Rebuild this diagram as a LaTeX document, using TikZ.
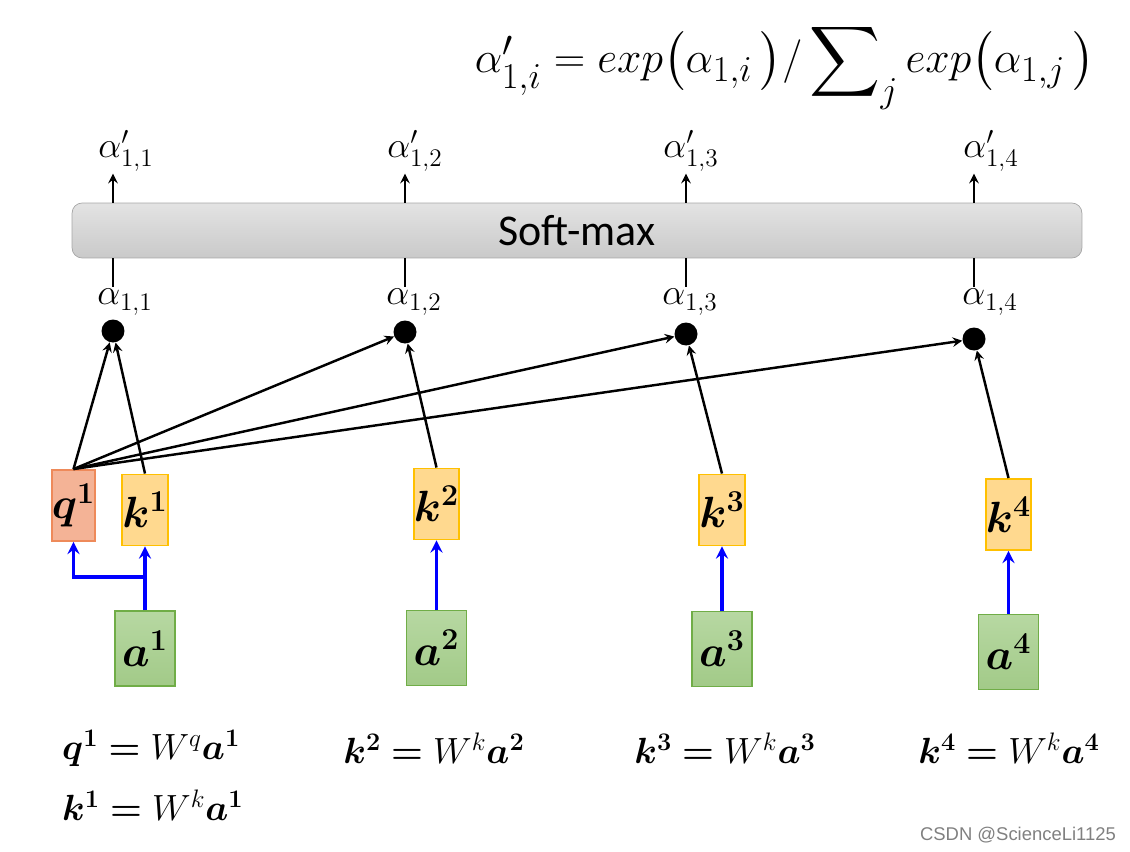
\documentclass[tikz,border=0pt]{standalone}
\usepackage{amsmath}
\usepackage{amssymb}
\usepackage{fontspec}
\usetikzlibrary{calc}
\newfontfamily\calibri{Carlito}
\newfontfamily\markfont{Liberation Sans}
\definecolor{qfill}{HTML}{F4B396}
\definecolor{qdraw}{HTML}{EE8A5A}
\definecolor{kfill}{HTML}{FFD98F}
\definecolor{kdraw}{HTML}{FFC000}
\definecolor{atop}{HTML}{B7D8A2}
\definecolor{abot}{HTML}{A2CA88}
\definecolor{adraw}{HTML}{70AD47}
\tikzset{>=stealth}
\tikzset{
    qbox/.style={draw=qdraw, fill=qfill, line width=1.1pt, minimum width=0.74cm,
        minimum height=1.42cm, inner sep=0pt, font=\fontsize{25}{28}\selectfont},
    kbox/.style={qbox, draw=kdraw, fill=kfill},
    abox/.style={draw=adraw, top color=atop, bottom color=abot, line width=1.1pt,
        minimum width=1.2cm, minimum height=1.5cm, inner sep=0pt,
        font=\fontsize{25}{28}\selectfont},
    dot/.style={circle, fill=black, inner sep=0pt, minimum size=0.46cm},
    alab/.style={font=\fontsize{21}{24}\selectfont, inner sep=1pt},
    eqn/.style={font=\fontsize{22}{26}\selectfont},
    link/.style={->, line width=1.4pt},
    feed/.style={->, blue, line width=2pt},
}

\begin{document}
\begin{tikzpicture}[x=0.02cm, y=-0.02cm]
    \useasboundingbox (0,0) rectangle (1130,852);
    % normalisation formula
    \node[font=\fontsize{28}{32}\selectfont, inner sep=0pt] (norm) at (785,66)
        {$\alpha'_{1,i} = exp\bigl(\alpha_{1,i}\,\bigr)/\displaystyle\sum\nolimits_j exp\bigl(\alpha_{1,j}\,\bigr)$};
    % soft-max layer
    \node[draw=gray!70, top color=gray!22, bottom color=gray!42, rounded corners=0.2cm,
        minimum width=20.2cm, minimum height=1.1cm, font=\calibri\fontsize{25}{28}\selectfont]
        (sm) at (577,230.5) {Soft-max};
    % query and keys
    \node[qbox] (q1) at (73.5,505.5) {$\boldsymbol{q^1}$};
    \node[kbox] (k1) at (145,510) {$\boldsymbol{k^1}$};
    \node[kbox] (k2) at (436.5,504) {$\boldsymbol{k^2}$};
    \node[kbox] (k3) at (722,510) {$\boldsymbol{k^3}$};
    \node[kbox] (k4) at (1008.5,514.5) {$\boldsymbol{k^4}$};
    % inputs
    \node[abox] (a1) at (145,648.5) {$\boldsymbol{a^1}$};
    \node[abox] (a2) at (436.5,648) {$\boldsymbol{a^2}$};
    \node[abox] (a3) at (722,649) {$\boldsymbol{a^3}$};
    \node[abox] (a4) at (1008.5,652) {$\boldsymbol{a^4}$};
    % attention scores
    \foreach \i/\dx/\dy/\lx in {1/113/331/125, 2/405/332/414, 3/686/334/690, 4/974/339/990} {
        \node[dot] (d\i) at (\dx,\dy) {};
        \node[alab] (al\i) at (\lx,302) {$\alpha_{1,\i}$};
        \node[alab] (ap\i) at (\lx+1,151) {$\alpha'_{1,\i}$};
        \draw[line width=1.4pt] (sm.south -| d\i) -- (d\i |- al\i.north);
        \draw[link] (sm.north -| d\i) -- (d\i |- ap\i.south);
        \draw[link] (q1.north) -- (d\i);
    }
    \draw[link] (k1.north) -- (d1);
    \draw[link] (k2.north) -- (d2);
    \draw[link] (k3.north) -- (d3);
    \draw[link] (k4.north) -- (d4);
    % projections
    \coordinate (split) at (145,577);
    \draw[feed] (a1.north) -- (k1.south);
    \draw[feed] (split) -| (q1.south);
    \draw[feed] (a2.north) -- (k2.south);
    \draw[feed] (a3.north) -- (k3.south);
    \draw[feed] (a4.north) -- (k4.south);
    % equations
    \node[eqn, anchor=west] (eq1) at (56,748) {$\boldsymbol{q^1} \boldsymbol{=} W^q\boldsymbol{a^1}$};
    \node[eqn, anchor=west] (eq2) at (56,805) {$\boldsymbol{k^1} \boldsymbol{=} W^k\boldsymbol{a^1}$};
    \node[eqn] (eq3) at (434,748) {$\boldsymbol{k^2} \boldsymbol{=} W^k\boldsymbol{a^2}$};
    \node[eqn] (eq4) at (725,748) {$\boldsymbol{k^3} \boldsymbol{=} W^k\boldsymbol{a^3}$};
    \node[eqn] (eq5) at (1009,748) {$\boldsymbol{k^4} \boldsymbol{=} W^k\boldsymbol{a^4}$};
    \node[font=\markfont\fontsize{10.5}{12}\selectfont, text=gray] (mark) at (1018,835) {CSDN @ScienceLi1125};
\end{tikzpicture}
\end{document}
